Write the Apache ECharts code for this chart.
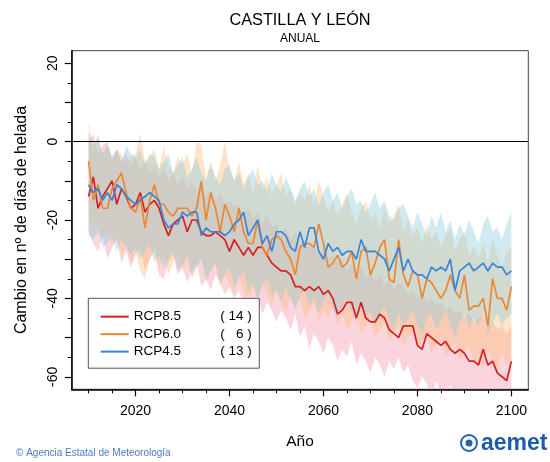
<!DOCTYPE html>
<html>
<head>
<meta charset="utf-8">
<script src="https://cdn.jsdelivr.net/npm/echarts@6/dist/echarts.min.js"></script>
<style>
html,body{margin:0;padding:0;background:#fff;}
#chart{width:550px;height:462px;}
</style>
</head>
<body>
<div id="chart"></div>
<script>
// ---- data ----
const firstYear = 2010, lastYear = 2100;
const years = [];
for (let y = firstYear; y <= lastYear; y++) years.push(y);

const seriesNames = ['RCP8.5', 'RCP6.0', 'RCP4.5'];
const modelCounts = [14, 6, 13];

const xMajorTicks = [2020, 2040, 2060, 2080, 2100];
const xMinorTicks = [2010, 2015, 2025, 2030, 2035, 2045, 2050, 2055, 2065, 2070, 2075, 2085, 2090, 2095];
const yMajorTicks = [-60, -50, -40, -30, -20, -10, 0, 10, 20];
const yMinorTicks = [-55, -45, -35, -25, -15, -5, 5, 15];
const yLabels = [-60, -40, -20, 0, 20];

// RCP8.5 mean
const rcp85 = [-14,-9,-17,-14,-12,-10,-16,-12,-14,-17,
  -16,-13,-18,-16,-15,-17,-21,-24,-21,-20,
  -19,-23,-20,-20,-23,-24,-24,-23,-24,-25,
  -28,-25,-27,-29,-27,-29,-27,-27,-29,-31,
  -32,-33,-33,-34,-37,-37,-38,-37,-38,-37,
  -39,-38,-40,-44,-43,-41,-41,-45,-41,-45,
  -46,-46,-44,-45,-48,-49,-50,-47,-47,-47,
  -52,-53,-49,-50,-51,-52,-51,-53,-54,-53,
  -54,-56,-56,-57,-53,-57,-56,-59,-60,-61,
  -56];
const rcp85Hi = [0,2,-3,-1,0,-4,-2,-5,-3,-6,
  -4,-7,-5,-8,-6,-9,-7,-10,-8,-11,
  -9,-12,-10,-13,-11,-14,-12,-15,-13,-16,
  -15,-17,-16,-19,-17,-20,-18,-21,-19,-22,
  -21,-24,-22,-25,-23,-26,-25,-27,-26,-29,
  -27,-30,-29,-31,-30,-33,-31,-34,-32,-35,
  -33,-36,-34,-37,-35,-38,-36,-37,-39,-38,
  -40,-39,-41,-40,-42,-41,-43,-42,-44,-43,
  -45,-44,-46,-45,-44,-47,-46,-48,-47,-49,
  -47];
const rcp85Lo = [-23,-26,-28,-24,-30,-27,-25,-31,-28,-32,
  -29,-27,-33,-30,-28,-34,-35,-31,-29,-34,
  -32,-36,-33,-31,-37,-35,-38,-34,-36,-39,
  -37,-40,-38,-41,-39,-42,-40,-44,-41,-43,
  -46,-43,-45,-48,-44,-50,-47,-53,-49,-51,
  -54,-50,-52,-56,-53,-55,-51,-57,-54,-56,
  -59,-55,-57,-60,-56,-58,-55,-59,-57,-61,
  -63,-60,-62,-65,-61,-64,-66,-62,-65,-63,
  -66,-64,-67,-63,-66,-68,-65,-67,-64,-66,
  -65];

// RCP6.0 mean
const rcp60 = [-5,-15,-11,-17,-17,-12,-10,-8,-13,-17,
  -18,-14,-22,-15,-11,-16,-16,-18,-19,-17,
  -17,-17,-19,-17,-10,-20,-13,-17,-23,-16,
  -19,-23,-17,-23,-26,-26,-20,-27,-29,-25,
  -24,-25,-28,-30,-34,-27,-26,-26,-27,-21,
  -26,-32,-31,-29,-32,-31,-28,-35,-28,-27,
  -34,-31,-27,-25,-35,-36,-25,-34,-37,-33,
  -34,-40,-35,-36,-38,-40,-38,-34,-38,-40,
  -34,-43,-42,-42,-40,-47,-35,-40,-40,-43,
  -37];
const rcp60Hi = [5,-2,2,-4,-1,-5,-2,-3,-6,-4,
  -3,2,-5,-4,-2,-7,-1,-6,-8,-4,
  -6,-3,-8,0,-1,-9,-5,-10,-6,0,
  -7,-10,-5,-11,-8,-13,-6,-12,-9,-14,
  -11,-8,-14,-12,-16,-13,-15,-11,-16,-10,
  -14,-18,-15,-19,-16,-13,-18,-21,-17,-15,
  -20,-18,-22,-17,-21,-19,-16,-23,-20,-24,
  -22,-26,-21,-25,-23,-27,-24,-22,-28,-25,
  -23,-29,-27,-30,-26,-31,-25,-29,-32,-28,
  -27];
const rcp60Lo = [-20,-23,-21,-25,-22,-27,-24,-29,-26,-31,
  -28,-33,-35,-30,-27,-32,-29,-34,-31,-28,
  -33,-30,-35,-32,-29,-36,-33,-31,-37,-34,
  -36,-39,-34,-38,-41,-37,-40,-36,-39,-42,
  -38,-41,-44,-39,-42,-40,-45,-43,-41,-46,
  -43,-45,-42,-47,-44,-48,-46,-43,-49,-47,
  -45,-50,-48,-46,-51,-49,-47,-52,-50,-48,
  -53,-51,-49,-54,-52,-50,-55,-53,-51,-56,
  -54,-52,-57,-55,-58,-53,-56,-59,-54,-57,
  -55];

// RCP4.5 mean
const rcp45 = [-11,-13,-12,-15,-13,-15,-11,-12,-14,-15,
  -16,-15,-14,-13,-14,-15,-20,-22,-21,-21,
  -18,-19,-18,-18,-24,-22,-23,-23,-23,-24,
  -23,-21,-20,-18,-24,-22,-20,-26,-24,-28,
  -23,-23,-24,-27,-28,-23,-27,-22,-22,-28,
  -30,-26,-28,-27,-29,-28,-28,-30,-25,-28,
  -28,-28,-29,-30,-33,-30,-27,-33,-30,-33,
  -34,-34,-35,-32,-33,-32,-33,-30,-38,-33,
  -32,-31,-33,-32,-31,-33,-31,-32,-32,-34,
  -33];
const rcp45Hi = [2,-1,1,-3,-1,-4,-2,-5,-1,-3,
  -4,-2,-6,-3,-4,-7,-5,-3,-8,-6,
  -4,-9,-7,-4,-8,-10,-6,-9,-11,-7,
  -6,-10,-8,-12,-9,-7,-11,-10,-13,-8,
  -11,-13,-9,-12,-15,-12,-10,-14,-12,-16,
  -13,-11,-15,-13,-17,-14,-12,-16,-15,-18,
  -16,-13,-17,-15,-19,-20,-17,-16,-19,-22,
  -18,-21,-24,-19,-22,-18,-23,-20,-25,-21,
  -24,-20,-23,-26,-21,-19,-23,-22,-25,-21,
  -18];
const rcp45Lo = [-24,-25,-23,-27,-26,-24,-28,-25,-27,-29,
  -27,-30,-28,-26,-31,-29,-32,-30,-28,-33,
  -31,-29,-34,-32,-30,-35,-33,-31,-36,-34,
  -32,-37,-35,-33,-38,-36,-40,-37,-35,-39,
  -38,-41,-37,-40,-43,-39,-38,-42,-40,-44,
  -41,-39,-43,-45,-42,-40,-44,-46,-42,-45,
  -43,-47,-44,-42,-46,-48,-44,-47,-45,-43,
  -47,-49,-45,-44,-48,-46,-43,-47,-50,-46,
  -44,-48,-45,-47,-43,-49,-46,-44,-47,-45,
  -44];

// ---- styling ----
const lineColors = ['#d42222', '#ec8733', '#3a86d6'];
const bandColors = ['rgba(244,150,170,0.40)', 'rgba(252,190,125,0.42)', 'rgba(140,202,222,0.40)'];
const FONT = 'Liberation Sans, Arial, Helvetica, sans-serif';

const means = [rcp85, rcp60, rcp45];
const his = [rcp85Hi, rcp60Hi, rcp45Hi];
const los = [rcp85Lo, rcp60Lo, rcp45Lo];

function bandRenderer(k) {
  return function (params, api) {
    if (params.dataIndex !== 0) return null;
    const pts = [];
    for (let i = 0; i < years.length; i++) pts.push(api.coord([years[i], his[k][i]]));
    for (let i = years.length - 1; i >= 0; i--) pts.push(api.coord([years[i], los[k][i]]));
    return {
      type: 'polygon',
      shape: { points: pts },
      style: { fill: bandColors[k], stroke: null },
      silent: true
    };
  };
}

const series = [];
for (let k = 0; k < 3; k++) {
  series.push({
    type: 'custom', silent: true, clip: true, z: 1,
    renderItem: bandRenderer(k),
    encode: { x: 0, y: [1, 2] },
    data: years.map((y, i) => [y, los[k][i], his[k][i]])
  });
}
for (let k = 0; k < 3; k++) {
  series.push({
    name: seriesNames[k], type: 'line', symbol: 'none',
    lineStyle: { color: lineColors[k], width: 1.7 },
    itemStyle: { color: lineColors[k] },
    data: years.map((y, i) => [y, means[k][i]]), z: 3
  });
}
// zero reference line
series.push({
  type: 'line', data: [], silent: true, z: 4,
  markLine: {
    silent: true, symbol: 'none', label: { show: false },
    lineStyle: { color: '#000', width: 1, type: 'solid' },
    data: [{ yAxis: 0 }]
  }
});

const chart = echarts.init(document.getElementById('chart'), null, { renderer: 'canvas' });
const counts = {};
seriesNames.forEach((n, i) => counts[n] = modelCounts[i]);

chart.setOption({
  animation: false,
  backgroundColor: '#fff',
  textStyle: { fontFamily: FONT },
  grid: { left: 71.7, right: 21.7, top: 50.7, bottom: 72.7, show: true, borderColor: '#444', borderWidth: 1, backgroundColor: 'transparent' },
  xAxis: [{
    type: 'value', min: 2006.4, max: 2103.6, position: 'bottom',
    name: 'Año', nameLocation: 'middle', nameGap: 44,
    nameTextStyle: { fontSize: 15.5, color: '#000', fontFamily: FONT },
    axisLine: { show: true, onZero: false, lineStyle: { color: '#000', width: 1.5 } },
    axisTick: { show: true, length: 7, customValues: xMajorTicks, lineStyle: { color: '#000', width: 1.2 } },
    axisLabel: { show: true, customValues: xMajorTicks, margin: 15, fontSize: 14, color: '#000', fontFamily: FONT, formatter: v => String(v) },
    splitLine: { show: false }
  }, {
    type: 'value', min: 2006.4, max: 2103.6, position: 'bottom',
    axisLine: { show: false, onZero: false },
    axisTick: { show: true, length: 4, customValues: xMinorTicks, lineStyle: { color: '#000', width: 1 } },
    axisLabel: { show: false },
    splitLine: { show: false }
  }],
  yAxis: [{
    type: 'value', min: -63.2, max: 23.2, position: 'left',
    name: 'Cambio en nº de días de helada', nameLocation: 'middle', nameGap: 42,
    nameTextStyle: { fontSize: 16, color: '#000', fontFamily: FONT },
    axisLine: { show: true, onZero: false, lineStyle: { color: '#000', width: 1.5 } },
    axisTick: { show: true, length: 7, customValues: yMajorTicks, lineStyle: { color: '#000', width: 1.2 } },
    axisLabel: { show: true, customValues: yLabels, rotate: 90, margin: 12, fontSize: 14, color: '#000', fontFamily: FONT, formatter: v => String(v) },
    splitLine: { show: false }
  }, {
    type: 'value', min: -63.2, max: 23.2, position: 'left',
    axisLine: { show: false, onZero: false },
    axisTick: { show: true, length: 4, customValues: yMinorTicks, lineStyle: { color: '#000', width: 1 } },
    axisLabel: { show: false },
    splitLine: { show: false }
  }],
  legend: {
    data: seriesNames,
    orient: 'vertical', left: 88.3, top: 298.3,
    padding: [9.6, 7.6, 7.8, 12.4],
    itemGap: 0, itemWidth: 28, itemHeight: 2, icon: 'rect',
    borderColor: '#555', borderWidth: 1, backgroundColor: '#fff',
    selectedMode: false,
    formatter: n => '{n|' + n + '}{c|( ' + (counts[n] < 10 ? '  ' : '') + counts[n] + ' )}',
    textStyle: {
      fontSize: 13.5, color: '#000', fontFamily: FONT, lineHeight: 17.5,
      rich: {
        n: { width: 85, fontSize: 13.5, fontFamily: FONT, lineHeight: 17.5 },
        c: { width: 33, align: 'right', fontSize: 13.5, fontFamily: FONT, lineHeight: 17.5 }
      }
    },
    itemStyle: { borderWidth: 0 }
  },
  graphic: [
    { type: 'text', x: 300, y: 21, style: { text: 'CASTILLA Y LEÓN', font: '16.3px ' + FONT, fill: '#000', textAlign: 'center', textVerticalAlign: 'middle' } },
    { type: 'text', x: 300, y: 38.5, style: { text: 'ANUAL', font: '12px ' + FONT, fill: '#000', textAlign: 'center', textVerticalAlign: 'middle' } },
    { type: 'text', x: 16, y: 453, style: { text: '© Agencia Estatal de Meteorología', font: '10px ' + FONT, fill: '#4a7cc0', textAlign: 'left', textVerticalAlign: 'middle' } },
    { type: 'circle', shape: { cx: 469, cy: 443, r: 8 }, style: { fill: 'none', stroke: '#2a62b0', lineWidth: 2 } },
    { type: 'circle', shape: { cx: 469, cy: 443, r: 3.5 }, style: { fill: '#2a62b0' } },
    { type: 'text', x: 481, y: 444, style: { text: 'aemet', font: 'bold 23px ' + FONT, fill: '#1f5bab', textAlign: 'left', textVerticalAlign: 'middle' } }
  ],
  series: series
});
</script>
</body>
</html>
